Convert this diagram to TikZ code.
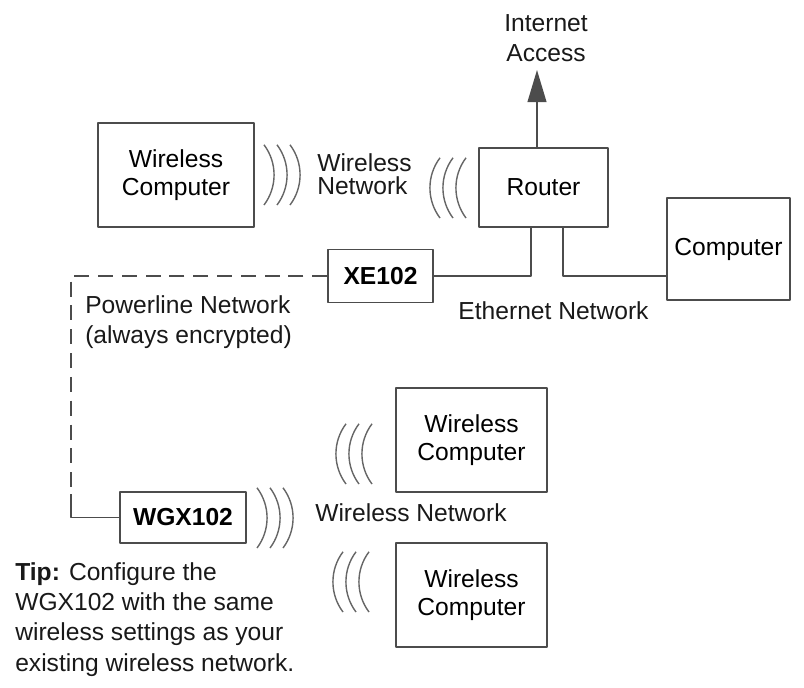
\documentclass[tikz,border=0pt]{standalone}
\usepackage{fontspec}
\setmainfont{Liberation Sans}
\usetikzlibrary{arrows.meta,calc}
\newcommand\diafont{\fontsize{17.5}{21.5}\selectfont}
\newcommand\boxfont{\fontsize{17.5}{20}\selectfont}
\begin{document}
\begin{tikzpicture}[x=0.025cm,y=-0.025cm,>={Triangle[length=0.8cm,width=0.47cm]},font=\diafont,line join=round]
			\tikzset{box/.style={draw=black!70,line width=1.1pt,align=center,inner sep=0pt,font=\boxfont},
				label text/.style={inner sep=0pt,align=left,text=black!90},
				wire/.style={draw=black!70,line width=1.1pt},
				wave/.style={draw=black!60,line width=1pt},
				plc line/.style={wire,dash pattern=on 0.375cm off 0.22cm}}
			\useasboundingbox (0,0) rectangle (804,687);
			% boxes
			\node[box,minimum width=3.9cm,minimum height=2.6cm] (wcomp) at (176,175) {Wireless\\Computer};
			\node[box,minimum width=3.225cm,minimum height=1.975cm] (router) at (543.5,187.5) {Router};
			\node[box,minimum width=3.075cm,minimum height=2.55cm] (comp) at (728.5,249) {Computer};
			\node[box,minimum width=2.625cm,minimum height=1.325cm,font=\boxfont\bfseries] (xe) at (380.5,276) {XE102};
			\node[box,minimum width=3.15cm,minimum height=1.275cm,font=\boxfont\bfseries] (wgx) at (183,517.5) {WGX102};
			\node[box,minimum width=3.775cm,minimum height=2.6cm] (wcompa) at (471.5,440) {Wireless\\Computer};
			\node[box,minimum width=3.775cm,minimum height=2.6cm] (wcompb) at (471.5,595) {Wireless\\Computer};
			% texts
			\node[label text,align=center] (inet) at (546,38) {Internet\\Access};
			\node[label text,anchor=west,font=\fontsize{17.5}{16.6}\selectfont] (wnet) at (317,174.5) {Wireless\\Network};
			\node[label text] (eth) at (553.5,311) {Ethernet Network};
			\node[label text,anchor=west] (plc) at (85,322) {Powerline Network\\(always encrypted)};
			\node[label text,anchor=west] (wnetb) at (315,513) {Wireless Network};
			\node[label text,anchor=west] (tip) at (15,619.5) {\textbf{Tip:} Configure the\\WGX102 with the same\\wireless settings as your\\existing wireless network.};
			% connectors
			\coordinate (up) at (537,70);
			\draw[wire,->] (up |- router.north) -- (up);
			\draw[wire] (xe.east) -| ($(router.south)+(-12.5,0)$);
			\draw[wire] ($(router.south)+(19.5,0)$) |- (comp.west |- xe.east);
			\coordinate (plbend) at (71,494);
			\draw[plc line] (xe.west) -| (plbend);
			\draw[wire] (plbend) |- (wgx.west);
			% radio waves
			\foreach \d in {0,13,26} \draw[wave] (264+\d,205) arc[start angle=-37,end angle=37,radius=1.25cm];
			\foreach \d in {0,13,26} \draw[wave] (257+\d,548) arc[start angle=-37,end angle=37,radius=1.25cm];
			\foreach \d in {0,13,26} \draw[wave] (440+\d,218) arc[start angle=217,end angle=143,radius=1.25cm];
			\foreach \d in {0,13,26} \draw[wave] (346+\d,484) arc[start angle=217,end angle=143,radius=1.25cm];
			\foreach \d in {0,13,26} \draw[wave] (343+\d,612) arc[start angle=217,end angle=143,radius=1.25cm];
		\end{tikzpicture}
\end{document}
